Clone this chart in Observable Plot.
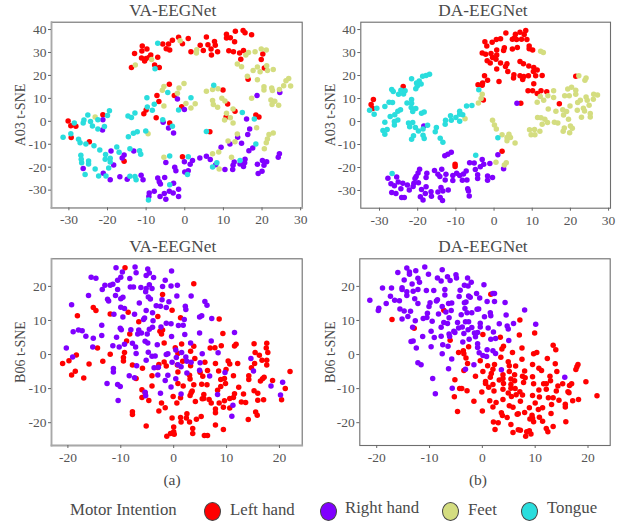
<!DOCTYPE html>
<html><head><meta charset="utf-8">
<script src="https://cdn.jsdelivr.net/npm/d3@7"></script>
<script src="https://cdn.jsdelivr.net/npm/@observablehq/plot@0.6"></script>
<style>
html,body{margin:0;padding:0;background:#fff}
#page{position:relative;width:628px;height:524px;overflow:hidden;font-family:"Liberation Serif",serif;color:#4a4a4a}
#page svg{position:absolute;background:transparent}
.t{position:absolute;white-space:nowrap;line-height:1}
.sw{position:absolute;width:17px;height:19px;border-radius:50%;border:1.2px solid #444;box-sizing:border-box}
</style></head><body><div id="page"></div>
<script>
const classNames=["Left hand","Right hand","Feet","Tongue"];
const classColors=["#ff0000","#8000ff","#d4dd80","#2adddd"];
const ticks30=[-30,-20,-10,0,10,20,30];
const ticksY40=[-30,-20,-10,0,10,20,30,40];
const ticks20=[-20,-10,0,10,20];

const vaA03Left=[[-13.8,23.4],[-13,29.6],[-11,32.8],[-11.1,30.6],[-9.8,31.5],[-11.2,27.6],[-10.4,26.3],[-10,27.4],[-8.8,28.9],[-9.2,27.9],[-7,27.9],[-7.8,24.5],[-6.6,23.5],[-5.7,33.7],[-4.2,33.7],[-4.8,31.6],[-3.9,31.1],[-3.2,35.3],[-1.6,36.6],[-0.6,33.8],[0.9,36.1],[1.6,30.3],[4,33.1],[4.8,30.9],[5.6,36.7],[6,33.4],[6.8,31.5],[6.9,28.9],[7.7,34.8],[7.9,33.2],[8.5,30.3],[10.8,38],[10.8,36.3],[11.8,36.4],[13.1,39.3],[12.9,34.7],[11.4,30.8],[12.6,30.3],[14.2,29.8],[15.2,30.9],[14.5,27.1],[15.1,39.6],[15.6,38.6],[17.3,37.7],[20.2,29.3],[19.8,26.9],[20.6,23.2],[16.4,18.3],[-4,16.1],[-2.7,11.3],[-7.2,11.2],[-6.7,8.6],[-10,4.9],[-10.6,3.3],[-7.4,1.5],[-3.9,-0.7],[-0.8,6.4],[9.9,13.6],[11.1,7.5],[13,4.4],[10.7,1.9],[18.4,2.8],[19.2,1.9],[6.5,-4.6],[-21.2,2.9],[-30.2,0.1],[-29.5,-1.9],[-28.2,-2.2],[-29.4,-7.1],[-24.7,-8.9],[-15.7,-17.4],[-0.6,-15.5]];
const vaA03Right=[[24.6,12.6],[18.7,11.2],[-1.9,9.7],[-0.1,5.1],[16,1],[-21.2,0.7],[-21.3,-3.8],[-5.6,-0.4],[-4.2,-2.9],[-2.9,-5.1],[16.8,-3.3],[16.3,-5.7],[13.7,-7],[14.7,-9.6],[11.7,-9.9],[9.4,-11.3],[17.6,-11.6],[16.6,-12.8],[-15.7,-14.7],[-16.2,-16],[-13.2,-12.9],[-18.4,-19],[-19.1,-12.9],[-26.3,-20.6],[-21.1,-22.6],[-16.8,-24.2],[-19.3,-25.5],[-14.9,-25.3],[-11.3,-23.5],[-10.8,-25.5],[-4.9,-18],[-2.6,-20],[-2.3,-21.6],[-0.1,-17.6],[2,-17.1],[1.4,-18.7],[3.9,-16],[5.6,-15.2],[6.6,-16.7],[0,-22.1],[0.9,-21.5],[8,-18.9],[10.4,-21],[12.4,-21],[12.8,-17.7],[12.5,-19.2],[14.3,-18.6],[15.6,-16.5],[15.5,-18.1],[15.2,-19.7],[18.8,-18.7],[20.1,-17.1],[21.2,-17.6],[20.5,-19.2],[19,-22.8],[20,-21.8],[24.5,-14.1],[24.2,-15.7],[-7,-24.7],[-6.3,-27.3],[-6.6,-26.3],[-5.2,-24.5],[-2.9,-27],[-1.6,-29.6],[-9.2,-31.2],[-9.3,-32.8],[-7.9,-30.5],[-6.4,-32.8],[-5.3,-31.5],[-4.9,-34],[-4,-30.5],[-3,-31.3],[-1.6,-32.8]];
const vaA03Feet=[[-23.2,1.9],[-12.8,24.5],[-8.6,26.9],[-1.2,35.1],[3,29.8],[3.1,31.2],[15.8,28.9],[16.5,30],[18.2,30.3],[19.8,31.5],[21.1,31.1],[13.6,25],[14.7,23.8],[16.2,19.6],[17.7,22.1],[18.8,23.7],[19.5,21.6],[21.2,24.2],[21.4,22.2],[22.9,22.6],[18.8,18.1],[26.2,17.7],[26.9,18.7],[25.6,15.5],[27.4,15.4],[24.5,13.9],[20.5,15.1],[20.5,13.6],[22.5,14.5],[22.7,13.4],[17.3,10],[22.3,9.3],[23.3,8.7],[22.6,7.3],[24.3,7],[5.6,13.1],[7.2,13.9],[8.6,14.2],[7.2,9.1],[7.4,7.3],[8.5,6.1],[9.6,10],[10.4,8.9],[12.5,5.4],[10.8,3.5],[10.3,0.6],[11.8,1.5],[12.5,-0.7],[18.6,-2.8],[13.6,-5.5],[11.2,-8.6],[13,-8.9],[22.9,-5.1],[21.8,-5.8],[21.4,-7.7],[21.1,-9.3],[20.6,-12],[7.2,-14.1],[8.8,-13.4],[12.1,-15.7],[8.9,-20.8],[-5.4,15.2],[-5.8,13.5],[-0.2,16.5],[-1.5,14.5],[-1.9,12.2],[-5.4,6.7],[0.3,7.8],[2.7,7.7],[1.6,5.8],[-9.5,-5.4],[-5.4,-15.7]];
const vaA03Tongue=[[-7,34],[-7.7,22.9],[7.5,15.7],[-4.4,12.6],[1.6,10.3],[-9.8,10.3],[-9.7,6.2],[-7.9,7.4],[-8.4,4.8],[-12.9,3.6],[-14.7,2.3],[-13.8,1.7],[-1.6,4.9],[-5.7,0.7],[-3.2,-2.2],[14.9,3.8],[18,1],[5.6,-4.4],[-25.1,2.8],[-26.1,0.6],[-26.3,-0.7],[-28.6,-0.7],[-24.4,-0.1],[-23.9,-2],[-22.5,0.7],[-19.5,4.6],[-20,2.5],[-22.5,-3.3],[-20.8,-2.3],[-31.5,-7],[-29.5,-5.4],[-27.5,-7.8],[-27.1,-9.3],[-25.6,-9.9],[-23.5,-10.7],[-22,-12.5],[-26.9,-14.8],[-26.8,-16.5],[-26.7,-18.1],[-24.9,-17.3],[-24.9,-18.6],[-20.5,-14.5],[-20.6,-16.5],[-19.3,-16.1],[-19.3,-17.7],[-23.2,-20.8],[-19.7,-20.3],[-17.6,-11.2],[-17,-13.5],[-25.8,-23.2],[-22.3,-23.8],[-20.4,-23.8],[-14.2,-24],[-12.9,-24.1],[-12.6,-25.5],[-14.6,-6.7],[-13.3,-5.2],[-12.3,-4.6],[-10.1,-4.2],[-14.2,-12],[-11.7,-12.8],[-11.4,-14.4],[-3.9,-15.1],[0.9,-15.5],[14.3,-17.1],[18.4,-9.9],[7.2,-19.9],[8.3,-18.1],[0.7,-23.2],[-3.9,-27.7],[-9.4,-34.3]];

const daA03Left=[[8.3,39.6],[6.8,38.8],[3.1,38.5],[5.6,38],[7.9,37.9],[5.4,36.4],[4.8,35.8],[5.9,35.7],[7.2,35.8],[8.6,35.7],[1.7,36],[0.6,35.7],[-0.5,34.5],[-2.4,34.7],[-1.9,32.9],[2.7,32.1],[2.5,30.9],[0.7,31.1],[4.8,31.5],[6.1,32.2],[9.2,32.9],[9.2,31.6],[10.1,31.1],[-3.1,29.8],[-2.2,29.3],[-0.8,29.6],[0.7,28.9],[-0.4,27.9],[0.5,27.1],[-1.8,26.4],[-1,25.5],[1.7,25.5],[3.4,25.1],[3,23.9],[0.7,22.8],[3.6,21.8],[6.8,26.1],[7.7,25.1],[9.1,24.2],[10.4,23.5],[11.3,22.4],[10.3,21.8],[9,19.9],[7.8,19.6],[6.8,19.9],[5.2,20.3],[5.1,18.9],[7.5,18.3],[10.9,19.9],[12.6,20],[10.4,16.4],[1.3,17.4],[-2.5,19.9],[-1.7,17.9],[-3,16.8],[-4.2,16],[-3.1,15.8],[-2.8,9.4],[8.9,13.4],[10.1,13.4],[11.3,12.2],[12.3,13.4],[13.8,12.9],[17.1,7.7],[21.4,19.7],[7,8],[-23.8,15.2],[-31.6,9.6],[-32.2,7.4],[-31.8,5.7],[-10.2,-18.6],[-10.2,-19.6],[2.1,-12.9]];
const daA03Right=[[6,8],[-18.4,-1.9],[1,-14.4],[-11.2,-13.4],[-12.1,-14.2],[-12.9,-14.9],[-3.1,-16.5],[-6.4,-17.9],[-5.2,-18],[-2.7,-18.6],[-3.6,-19.7],[-1.1,-18.3],[-4.9,-20.9],[-4.3,-23.1],[-4.3,-24.8],[-1.7,-23.7],[-0.4,-24.4],[-1.7,-25.5],[2.5,-20.5],[-19.5,-20.8],[-19.9,-22.4],[-20.4,-23.9],[-20.7,-24.8],[-17.6,-22.5],[-17.8,-24.4],[-15.6,-21.3],[-14.7,-22.9],[-13.7,-20.8],[-14.2,-23.9],[-12.6,-22.9],[-12.8,-25.4],[-10.8,-23.5],[-10.8,-25.7],[-9.8,-22.5],[-9,-23.5],[-8,-22.8],[-7.3,-21.5],[-8.3,-25.5],[-7.1,-25.4],[-6.9,-29.2],[-6.7,-30.2],[-6.5,-32.4],[-27.8,-24.7],[-25.5,-24.1],[-25.1,-26.3],[-27,-27.1],[-26.1,-27.9],[-23.9,-26.9],[-22.7,-27.6],[-24.4,-29.2],[-26.8,-30.9],[-25.7,-31.3],[-24.2,-33.1],[-23.5,-33.1],[-22.2,-29.8],[-21.2,-28.3],[-21,-26.9],[-19.8,-26.6],[-19,-29.6],[-17.8,-28.4],[-18,-31.3],[-19.3,-32.7],[-18.6,-34.1],[-16.5,-30.5],[-16.4,-32.5],[-14.7,-30.6],[-13.9,-28.7],[-13.4,-30.2],[-12,-29.8],[-14.1,-33.1],[-13.5,-34.3]];
const daA03Feet=[[12.2,30.6],[12.9,30],[22.2,19.9],[24.1,18.9],[23.8,18],[-3.1,11.9],[-3.4,10],[-4.1,8.1],[-7.6,1.2],[-0.4,0.6],[0.1,-1.5],[0.6,-3.2],[2.1,-5.8],[3.9,-5.5],[3.4,-7],[4.3,-7],[3.4,-8.4],[5.5,-9.3],[0.5,-17.7],[3.2,-17.9],[2.7,-18.9],[11.3,8.4],[12.1,10.9],[13,9.3],[14.1,11.2],[15.6,13.4],[15.6,10.5],[14.2,5.4],[16.2,4.5],[18,5.1],[19,4.4],[18.2,2.8],[19.5,1],[19.9,6.7],[18.5,11.2],[19.7,11.2],[19.3,14.1],[20.3,14.9],[21.4,13.6],[21.4,11.9],[22.6,9.3],[21.9,8.3],[24.1,10.7],[24.4,9.3],[26,9.7],[24.9,7.1],[26.1,11.9],[27.1,11.5],[23.4,5.8],[23.7,4.6],[21.8,4.9],[25.2,3.5],[25.2,2],[22.9,1.9],[11.4,1.7],[12.3,1.6],[13.3,1],[12.6,-1.2],[14,-0.4],[15.8,-0.3],[16.7,-0.6],[9.3,-3.6],[10.6,-3.5],[12,-4.2],[9.7,-5.7],[10.7,-5.8],[18.4,-2.8],[18.1,-4.2],[20,-2],[20.5,-2.9],[19.8,-4.9]];
const daA03Tongue=[[-16.9,20.6],[-17.8,20],[-18.7,19.7],[-21.6,18.6],[-19.6,17.6],[-20.3,16.8],[-19.1,16.3],[-20.1,15.5],[-20.5,14.2],[-26.8,13.9],[-26.4,13.1],[-24.4,13.6],[-23.3,13.4],[-25,11.9],[-23.7,12],[-21.6,9.6],[-22.8,8.1],[-21.6,8],[-27.5,8.4],[-26.6,8.3],[-28.6,6.5],[-30.7,5.8],[-32.6,4.9],[-31.4,3.2],[-21.7,6.1],[-20.5,5.7],[-21.3,4.4],[-19,3.6],[-18.3,4.1],[-24.5,5.1],[-25.2,4.5],[-26,3],[-27.2,2.2],[-25.2,0.7],[-26.1,0],[-26.1,-1.5],[-28.6,-0.3],[-28,-3.5],[-29.1,-3.9],[-28.6,-5.5],[-22.4,-0.6],[-21.3,-0.4],[-22.1,-2.3],[-20.6,-2.6],[-19.8,-4.1],[-18.6,-3.2],[-17.4,-1.6],[-21.1,-6.2],[-21.6,-7.7],[-18.6,-6],[-18.3,-7.4],[-15.4,-4.4],[-15.1,-2.6],[-14.1,-7.3],[-13.4,-9],[-12.7,0.6],[-12.8,-1.2],[-11.4,2.5],[-11.2,0.6],[-10,1.7],[-9,4.5],[-9,3.2],[-8.2,2.9],[-9,0.1],[-7.2,6.8],[-5.8,7],[-4,13.8],[-4.8,-14.7],[1,-7.1],[-26.7,-22.6]];

const vaB06Left=[[-9.2,25.5],[3.8,20.8],[-2.1,17.6],[-15.2,13.8],[-14.7,12.9],[-18.2,11.4],[-12,11.9],[-8.6,12.4],[-6.6,9.6],[-3,11.2],[-0.3,13],[1.3,10.8],[8.6,10.4],[-2.1,7.2],[-2.6,6.8],[-2.3,6],[9.3,6.2],[-8.3,6],[-8.9,4],[-1.8,3.4],[-14.4,1.9],[-12,0.1],[-9.3,0.6],[-18.4,-0.1],[1.5,3.1],[0.3,2],[3.8,2.4],[3.2,1],[0.8,0.3],[6.9,1.9],[7.8,2],[9,2.6],[11.5,2.5],[11.8,3],[15.2,3.2],[17.6,3.3],[17.5,1.9],[17.8,0.6],[15.4,0.6],[16.2,-0.2],[16.7,-1.7],[17.6,-1.7],[17.6,-3.1],[15.3,-2.6],[12.1,-2.6],[10.3,-1.9],[10.6,-2.8],[7.9,-2.6],[5.9,-2.3],[4,-1.2],[1.7,-2],[0.7,-3.1],[-1.8,-2.2],[-1.4,-3.4],[-2.8,-2.9],[-3,-3.8],[3.2,-3.3],[-5.9,-4],[-7.8,-3.1],[-9.5,-0.9],[-9.5,-1.9],[-13.4,-2],[-16,-2.8],[-19.8,-1.8],[-21,-2.6],[-18.6,-4.9],[-19.3,-6],[-17,-6.9],[-7.1,-7],[-4.1,-6.2],[0.8,-5.1],[3,-6.1],[3.1,-7.2],[5.5,-6.4],[5,-5.2],[6.4,-4.7],[8.5,-4.8],[9.9,-4.4],[11.3,-6.2],[8.9,-7.3],[9.6,-7],[14.2,-6.2],[14.2,-7.3],[14.7,-3.9],[17.1,-6.7],[16.8,-7.1],[16.4,-7.8],[18.7,-7.6],[22,-5],[21.1,-10],[20.4,-13.3],[15.2,-10.6],[15.9,-11.4],[15.9,-13.4],[17,-13.3],[13.2,-11.6],[12.3,-9.6],[11.5,-11.5],[10.6,-12.9],[11.3,-12.6],[9.6,-13.6],[8.6,-14.2],[9.8,-8.5],[8.9,-9.4],[8.3,-10.5],[6.3,-8.9],[5.3,-8.7],[3.8,-8.9],[0.8,-8.5],[1.8,-9.2],[-4.1,-9.2],[-6,-10.3],[-6,-12.6],[-5.4,-11.3],[-4.7,-13.5],[3.5,-10.7],[3.3,-11.2],[3.1,-12],[1.3,-12.7],[-0.1,-12.3],[4.1,-13.8],[5.7,-11.7],[5.7,-12.9],[5.4,-13],[6.7,-13.2],[7.1,-14.2],[9.4,-15.5],[10.6,-15.7],[12.8,-13.9],[13.6,-14.1],[0.6,-14.2],[-2.3,-14.2],[-1.6,-15.6],[-2.8,-16.6],[7.9,-16],[7.9,-17.1],[15.5,-16.9],[15.8,-17.8],[-7.8,-16.8],[-7.8,-17.6],[-0.3,-18.6],[1.3,-18.5],[1.4,-19.8],[2.5,-17.4],[2.4,-18.6],[3,-19.8],[4.3,-19],[5.2,-18.2],[14.1,-19.1],[7.9,-20.7],[9.4,-22],[3.6,-21.7],[3.6,-23.2],[-5.2,-21],[0,-21.3],[0,-22.7],[-0.6,-23.2],[-1.3,-24],[0.1,-23.4],[5.8,-23.8],[6.4,-23.8]];
const vaB06Right=[[-10.9,25.5],[-7.3,25.7],[-4.9,25.1],[-0.4,24.5],[-9.7,24.2],[-7.1,24],[-4.6,23.9],[-5.2,23.2],[-15.6,22.7],[-14.7,22.4],[-10,22.7],[-10.6,21.8],[-8.3,22.3],[-3.8,22.6],[-1.6,21.8],[-12,20.3],[-11.5,20.6],[-13,20.3],[-13.5,19.1],[-10.6,19.1],[-8.2,19.8],[-7.6,19.8],[-6.2,19.7],[-4.6,20.5],[-5.2,19.4],[-5.3,18.4],[-4.1,19.4],[-2.1,20],[-0.5,20.1],[0.7,20.3],[-16.1,17.3],[-11,17.3],[-9.6,16.8],[-10,16.4],[-4.8,16.9],[-4.4,16.3],[-2.2,16.1],[0.6,17.2],[3.3,17.2],[-0.9,15.5],[-19.3,14.6],[-12.5,16.2],[-12.3,15.7],[-6.5,15.1],[-3.3,14.3],[-2.5,14.2],[-1.4,13.8],[2.2,14.2],[2.3,13.2],[5.9,15.6],[6.3,14.5],[-10,13.9],[-9.3,13.5],[-5.2,12.9],[-4,12.3],[-11.3,11.8],[-7.4,11.8],[-9.6,11],[-5.7,10.3],[-5.5,10.7],[-3.9,9.9],[2,10.3],[4.9,11],[5.3,11.4],[7.2,10.6],[-13.6,8.6],[-10.1,7.7],[-9.9,7.3],[-8.1,7.3],[-6.6,7.2],[-4.6,7.4],[-4,8],[-2.4,8.1],[-1.4,9.2],[-0.5,9],[0.9,8.5],[1.8,8.6],[-19,6.7],[-18,7.2],[-17.3,7],[-16.6,5.4],[-15.2,4.8],[-13.6,5.6],[-10.8,5.1],[-6.8,6],[-6.1,6.3],[-5,6],[-0.4,5.3],[2.1,5.9],[4.9,6.3],[11.5,6.5],[7.1,4],[-5.4,3.9],[-4.9,3.4],[-3.1,2.9],[-9.3,3],[-7.8,3.3],[-7.2,2.2],[-11.5,2.6],[-10.3,2.2],[-15.3,2.2],[-20.3,1.9],[-19.1,-0.7],[-7.1,0.3],[-4.8,0.7],[-5.2,-1.7],[-4.1,-0.5],[-3.5,-0.4],[0.4,1.3],[1.5,0.6],[3.2,3.4],[-1.1,0.2],[-1.4,0],[0.5,-0.9],[5.4,0.2],[8.4,0.5],[2.3,-0.7],[2.5,-2],[3.3,-2.3],[5,-2.4],[-0.3,-2.3],[0.8,-3],[1.4,-3.6],[-3.7,-3.9],[-2.9,-3.7],[-7,-3.3],[-11.4,-4.1],[-11.4,-5.1],[-8.4,-6.2],[-7.4,-6.8],[-3,-6],[2.5,-5.4],[4.9,-4.6],[6.8,-6.3],[9.7,-5.3],[14.6,-1.2],[15.1,-4.8],[-1.1,-6.1],[0.4,-7.1],[-1.6,-7.6],[-0.5,-9.5],[-12.6,-8.5],[-10.6,-8.8],[-10.1,-9.4],[-5.4,-11.1],[-5.3,-12.1],[-2.5,-11.4],[1.4,-11.6],[8.3,-11.7],[-10.5,-13.5],[11.2,-14.9],[11,-18.1],[18.4,-9.2],[20.6,-8.1],[20.2,-11.9]];

const daB06Right=[[-21.3,15.9],[-19.6,13.6],[-19.7,12.9],[-18.9,19.5],[-18.2,15],[-17.2,19.5],[-17.4,17.1],[-16.6,15.9],[-15.7,15.8],[-16,24.1],[-14.3,25.4],[-14.8,21.9],[-13.8,24.2],[-13.8,23.6],[-12.6,24.6],[-10.9,25.7],[-10.2,23.6],[-12.2,22.4],[-11.9,21.2],[-13.3,20.7],[-15.2,19.6],[-15.2,19.1],[-14.3,18.4],[-14.3,17.3],[-13.1,18.6],[-12.2,19.1],[-10.6,18.8],[-9.2,18.8],[-12.8,16.4],[-12.2,15],[-9.9,15.2],[-10.1,14.1],[-8.7,15.7],[-8.5,16.1],[-15.6,13.4],[-14.8,12.8],[-13.6,12.7],[-14.1,11.2],[-15.2,10.4],[-12.7,9.9],[-11.2,10.6],[-10.4,12.1],[-10.5,10.9],[-9.5,9.8],[-13.2,8],[-11.3,5.3],[-9.7,6.8],[-9.1,5],[-13.5,3.8],[-13.1,4],[-12.5,1.9],[-9.7,2.3],[-7.6,24.9],[-8.5,22.5],[-7.8,21.6],[-6.6,22.8],[-6.1,21.7],[-5,23.4],[-4.9,22.5],[-2.8,22.5],[-2.1,21.2],[-2.7,20.1],[-3.4,20.3],[0.3,20.5],[-7.1,19.1],[-7.1,17.5],[-4.2,18.9],[-4.4,17],[-2.6,17.2],[-2.3,16.8],[-1.1,17.9],[-0.5,16.6],[2,17.9],[2.3,17.9],[0.9,15.6],[2.3,15.6],[4.3,15.3],[8,13.1],[-3.4,15.2],[-3.1,15.4],[-6.4,15],[-5.8,15.1],[-7.6,14.1],[-5.9,12.9],[-6.9,12.5],[-8.3,11.9],[-3.3,13.5],[-2.9,12.3],[-2,12.3],[-1,13.3],[-0.7,13.4],[-4,11.7],[0.4,11.1],[1.5,12.3],[1.6,11.4],[4.5,11.6],[-6.3,10.8],[-7.3,9.4],[-6.6,9.1],[-7.8,8],[-4.7,9.4],[-3.2,9.6],[-2.6,9.6],[-0.4,9.2],[-0.4,8.1],[3.2,9],[5.9,9.1],[4.7,8.4],[4.9,7.5],[10.1,8.9],[-4.5,7.8],[-3.8,8.1],[-2,7.9],[-2.7,7.3],[1.1,7.8],[2.1,6.6],[-6.3,6],[-5.4,6.8],[-6.2,5.3],[-7.8,5.4],[-5.2,6.5],[-3.5,6.2],[-1.5,6.3],[-0.9,6.5],[-1.3,5.2],[1.6,4.5],[2.5,4.7],[5,4.1],[-7.5,2.9],[-6.5,2.4],[-3.7,3.7],[-2.5,4.5],[-7.6,0.2],[-5.8,-1.3],[-0.9,3.2],[-0.9,2.1],[0.9,1.4],[2,1.1],[2.5,0.3],[-0.6,0.5],[0.1,-0.3],[0.8,-0.6],[-12.2,-2.4],[-11.6,-3],[-6.4,-4.2],[-3.2,-4.3],[-1.6,-3],[3.6,-4.5],[15.6,-6.7],[-9.4,-7],[-5.7,-9.9],[-8.9,-11.5]];
const daB06Left=[[1.6,17.7],[-17.1,10.3],[-7.3,13],[-12.9,7.7],[-6.1,4.2],[7.1,10.1],[9.9,6.3],[7,5.7],[0.1,5.9],[3.4,5.1],[-2.6,2.3],[4,2.4],[3.7,1.6],[7.5,1.9],[13.4,2.7],[13.9,1.4],[-4.5,0.6],[-3.6,1.1],[-3.5,0.2],[5.7,0.6],[9.7,0.2],[10.3,0.6],[-3.1,-1],[-0.4,-1.8],[3.5,-0.8],[7.5,-1.4],[12.3,-1.2],[-2.8,-2.6],[-3.5,-4.7],[1,-3.3],[2,-4.3],[2.3,-2.9],[4.9,-2.1],[5.1,-3.3],[6.3,-3.4],[9.5,-2.9],[10.7,-4],[11.2,-4.7],[13.8,-2.7],[18.1,-2.9],[17.9,-3.6],[17.7,-4.4],[0.1,-5],[1.7,-5.6],[5.1,-5],[8,-4.8],[6.1,-5.9],[14.1,-5],[-1.3,-6.4],[1.5,-6.7],[3.9,-5.9],[7.6,-6.4],[8.1,-6.8],[9.5,-6.5],[12.8,-6.4],[-5.2,-7.4],[0.6,-7.9],[3.2,-7.5],[3.9,-7],[5.4,-7.2],[6.1,-7.7],[7.8,-8.2],[12.9,-7.7],[0.6,-8.5],[2,-8.8],[4,-8.5],[5.4,-8.8],[9.7,-8.6],[11.6,-8.6],[12.1,-8.6],[15.2,-8.6],[14.3,-9.2],[16.5,-9.1],[16.9,-8.6],[19.6,-8],[1.2,-9.6],[5.4,-9.9],[6.2,-10],[-4.3,-10],[-3.9,-10],[-2.9,-10.6],[-0.1,-11],[2.2,-10.7],[3.9,-10.2],[7.1,-10.9],[10.7,-10.4],[12.1,-10.2],[14,-10.7],[16.2,-10.9],[16.4,-11.2],[-5.3,-12.4],[4.9,-11.3],[5.5,-12.3],[6.4,-11.8],[7.6,-11.9],[9.5,-12],[10.8,-12.5],[12.5,-12.7],[13.4,-12.7],[-1.6,-13.7],[1.4,-13.6],[3.9,-13.2],[7.2,-13.7],[14.5,-13.4],[17.1,-13.6],[18.2,-13.2],[21.7,-12.1],[2.6,-14.1],[10,-14.2],[2,-15.4],[5.1,-15],[5.8,-15.5],[13.1,-14.7],[15.7,-14.6],[15.7,-15.4],[8.9,-15.6],[11.4,-15.6],[10.6,-16.1],[-4.7,-16.7],[0,-16.6],[3.6,-17.1],[3.8,-17.9],[6.6,-17.5],[6.8,-17.4],[8,-17],[13,-17.3],[4.7,-18.5],[9.4,-17.8],[10.8,-18.4],[9,-18.9],[9.5,-18.7],[9.7,-19.7],[11.4,-19.6],[15.8,-19.7],[2.1,-19.8],[3,-20],[5.4,-20.5],[13.4,-21.1],[12.1,-21.7],[12.4,-22.7],[2.4,-22],[6.8,-22.1],[7.2,-22.2],[5.8,-22.9],[8.2,-24],[8.4,-22.7],[8.9,-22.4],[9.2,-23.3]];

const page=document.getElementById("page");
const color={domain:classNames,range:classColors};

function panel(o){
  const W=314,H=238;
  const series=o.series.map((pts,i)=>pts.map(p=>({x:p[0],y:p[1],c:classNames[o.order[i]]})));
  const fig=Plot.plot({
    width:W,height:H,
    marginLeft:o.fx[0]-o.left,marginRight:W-(o.fx[1]-o.left),
    marginTop:o.fy[0]-o.top,marginBottom:H-(o.fy[1]-o.top),
    style:{fontFamily:'"Liberation Serif",serif',background:"transparent",overflow:"visible"},
    x:{domain:o.xd},y:{domain:o.yd},color,
    marks:[
      Plot.frame({stroke:"#6e6e6e",strokeWidth:1.1}),
      ...(o.soft?[Plot.frame({anchor:"left",stroke:"#a8a8a8",strokeWidth:1.8}),Plot.frame({anchor:"bottom",stroke:"#a8a8a8",strokeWidth:1.8})]:[]),
      Plot.axisX(o.xt,{anchor:"bottom",tickSize:3,tickPadding:4,stroke:"#666",fill:"#555",fontSize:13.5,label:null,tickFormat:d=>String(d)}),
      Plot.axisY(o.yt,{anchor:"left",tickSize:3,tickPadding:2,stroke:"#666",fill:"#555",fontSize:13.5,label:null,tickFormat:d=>String(d)}),
      ...series.map(s=>Plot.dot(s,{x:"x",y:"y",fill:"c",r:2.75,stroke:null}))
    ]
  });
  fig.style.left=o.left+"px";fig.style.top=o.top+"px";
  page.appendChild(fig);
  text(o.title,o.tx,o.fy[0]-20,17.3,"center");
  const yl=text(o.ylabel,o.yx,(o.fy[0]+o.fy[1])/2,14,"center");
  yl.style.transform="translate(-50%,-50%) rotate(-90deg)";
}
function text(s,x,y,size,align){
  const d=document.createElement("div");
  d.className="t";d.textContent=s;
  d.style.left=x+"px";d.style.top=y+"px";d.style.fontSize=size+"px";
  if(align==="center")d.style.transform="translateX(-50%)";
  page.appendChild(d);return d;
}

panel({left:0,top:0,fx:[51,301.7],fy:[21.7,207.3],xd:[-34.5,30.4],yd:[-37.7,43.2],xt:ticks30,yt:ticksY40,title:"VA-EEGNet",tx:172.7,ylabel:"A03 t-SNE",yx:21,soft:true,
  series:[vaA03Left,vaA03Right,vaA03Feet,vaA03Tongue],order:[0,1,2,3]});
panel({left:314,top:0,fx:[360.3,610],fy:[21.7,207.7],xd:[-34.9,30.5],yd:[-37.7,43.2],xt:ticks30,yt:ticksY40,title:"DA-EEGNet",tx:483,ylabel:"A03 t-SNE",yx:331,soft:false,
  series:[daA03Left,daA03Right,daA03Feet,daA03Tongue],order:[0,1,2,3]});
panel({left:0,top:235,fx:[51,301.7],fy:[258.3,445],xd:[-23.1,24.3],yd:[-26.7,28.1],xt:ticks20,yt:ticks20,title:"VA-EEGNet",tx:172.7,ylabel:"B06 t-SNE",yx:21,soft:true,
  series:[vaB06Left,vaB06Right],order:[0,1]});
panel({left:314,top:235,fx:[359.3,609.7],fy:[258.3,445],xd:[-23.2,24.2],yd:[-26.7,28.1],xt:ticks20,yt:ticks20,title:"DA-EEGNet",tx:483,ylabel:"B06 t-SNE",yx:331,soft:false,
  series:[daB06Left,daB06Right],order:[0,1]});

text("(a)",172,472,15.5,"center");
text("(b)",478,472,15.5,"center");
text("Motor Intention",70,502,16.8);
const legendSwatchX=[203.5,319.5,441.5,520.5];
const legendTextX=[230,345,468,547];
classNames.forEach((n,i)=>{
  const s=document.createElement("div");
  s.className="sw";s.style.left=legendSwatchX[i]+"px";s.style.top="502px";s.style.background=classColors[i];
  page.appendChild(s);
  text(n,legendTextX[i],i%2?500:502,16.8);
});
</script></body></html>
